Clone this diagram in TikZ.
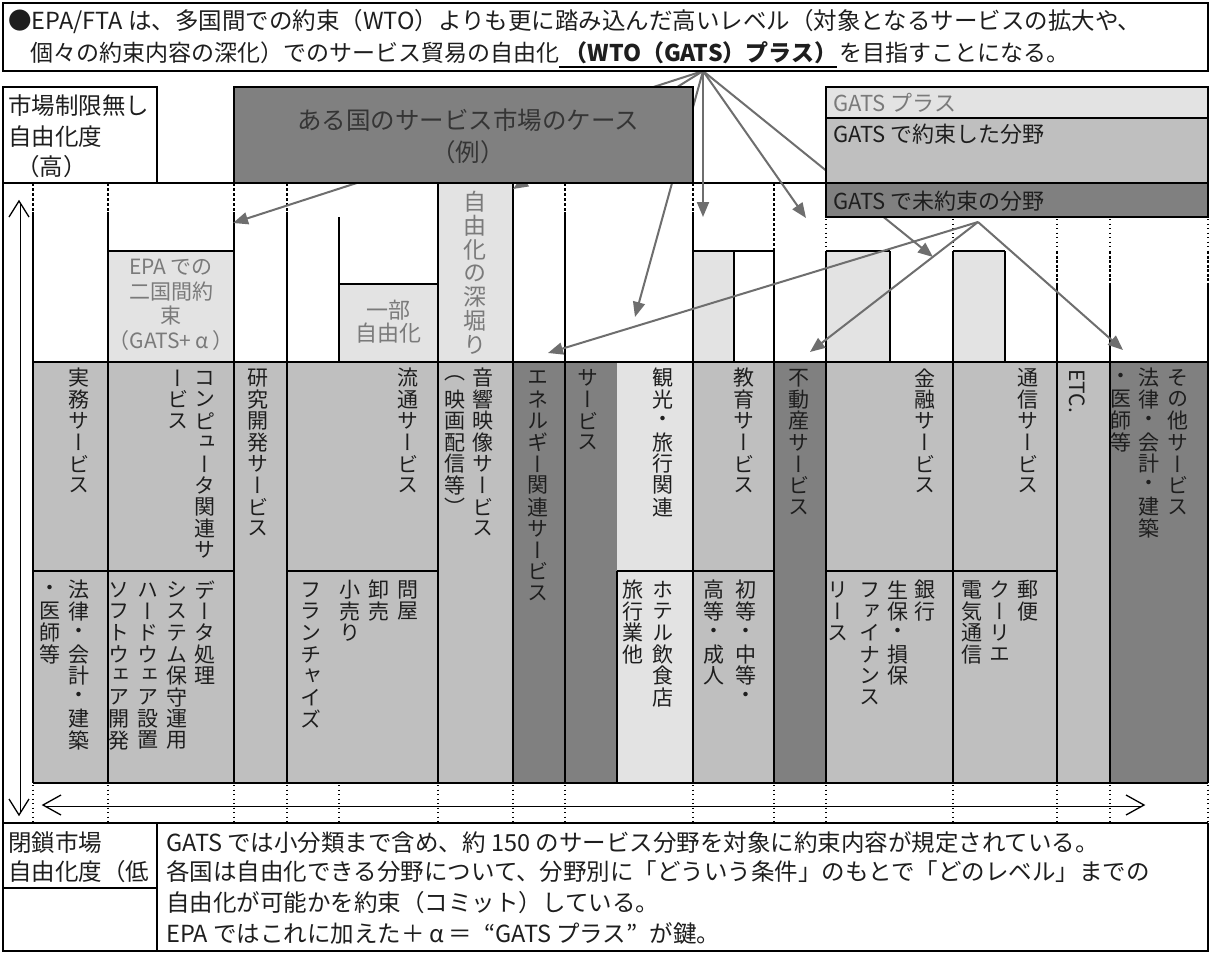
\documentclass[tikz,border=0pt]{standalone}
\usepackage{fontspec}
\setmainfont{Noto Sans CJK JP}
\newfontfamily\vfont{Noto Sans CJK JP}[RawFeature=+vert]
\usetikzlibrary{arrows.meta}
\definecolor{lt}{HTML}{E3E3E3}
\definecolor{md}{HTML}{BFBFBF}
\definecolor{dk}{HTML}{808080}
\definecolor{arr}{HTML}{6E6E6E}
\definecolor{txg}{HTML}{7A7A7A}
\definecolor{txd}{HTML}{1E1E1E}
\makeatletter
\newdimen\vtp \vtp=21.5pt
\def\vt@loop#1{\ifx\@nil#1\else\vbox to\vtp{\vss\hbox to\vtp{\hss#1\hss}\vss}\expandafter\vt@loop\fi}
\newcommand\vt[1]{\vbox{\offinterlineskip\vt@loop#1\@nil}}
\makeatother
\tikzset{
  frame/.style={draw=black, line width=2pt},
  ln/.style={draw=black, line width=1.8pt},
  dsh/.style={draw=black, line width=1.4pt, dash pattern=on 3pt off 2pt},
  dsht/.style={draw=black, line width=2pt, dash pattern=on 3pt off 1.5pt},
  dot/.style={draw=black, line width=1.3pt, dash pattern=on 1.3pt off 3.2pt},
  garrow/.style={draw=arr, line width=2pt, -{Triangle[length=15pt,width=12pt]}},
  dbl/.style={draw=black, double=white, double distance=1.2pt, line width=0.9pt},
  head/.style={draw=black, line width=1.3pt},
  vtxt/.style={inner sep=0pt, anchor=north, text=txd, font=\vfont\fontsize{21pt}{21pt}\selectfont},
  htxt/.style={inner sep=0pt, anchor=west, text=txd, font=\fontsize{23pt}{23pt}\selectfont},
  btxt/.style={inner sep=0pt, anchor=west, text=txd, font=\fontsize{23.5pt}{23.5pt}\selectfont},
  ltxt/.style={inner sep=0pt, anchor=west, font=\fontsize{22pt}{22pt}\selectfont},
}
\begin{document}
\begin{tikzpicture}[x=1pt,y=-1pt]
\useasboundingbox (0,0) rectangle (1211,953);
\fill[white] (0,0) rectangle (1211,953);

% ---- lower band fills
\fill[md] (33,362) rectangle (513,783);
\fill[dk] (513,362) rectangle (617,783);
\fill[lt] (617,362) rectangle (693,783);
\fill[md] (693,362) rectangle (774,783);
\fill[dk] (774,362) rectangle (826,783);
\fill[md] (826,362) rectangle (1110,783);
\fill[dk] (1110,362) rectangle (1208,783);
% ---- upper light boxes
\fill[lt] (108,251) rectangle (234,362);
\fill[lt] (339,284) rectangle (438,362);
\fill[lt] (438,183) rectangle (513,362);
\fill[lt] (693,251) rectangle (734,362);
\fill[lt] (826,251) rectangle (890,362);
\fill[lt] (953,251) rectangle (1005,362);

% ---- solid verticals
\foreach \x in {33,108,234,287,565,693}{\draw[ln] (\x,212) -- (\x,783);}
\draw[ln] (339,217) -- (339,362);
\draw[ln] (438,183) -- (438,783);
\draw[ln] (513,183) -- (513,783);
\draw[ln] (617,571) -- (617,783);
\draw[ln] (734,251) -- (734,362);
\draw[ln] (774,251) -- (774,783);
\draw[ln] (826,251) -- (826,783);
\draw[ln] (890,251) -- (890,362);
\draw[ln] (953,251) -- (953,783);
\draw[ln] (1005,251) -- (1005,362);
\foreach \x in {1057,1110,1208}{\draw[ln] (\x,283) -- (\x,783);}
% ---- solid horizontals
\draw[ln] (108,251) -- (234,251);
\draw[ln] (339,284) -- (438,284);
\draw[ln] (693,251) -- (774,251);
\draw[ln] (826,251) -- (890,251);
\draw[ln] (953,251) -- (1005,251);
\draw[ln] (33,362) -- (1208,362);
\draw[ln] (33,571) -- (234,571);
\draw[ln] (287,571) -- (438,571);
\draw[ln] (617,571) -- (774,571);
\draw[ln] (826,571) -- (1057,571);
\draw[ln] (33,783) -- (1208,783);
% ---- dashed / dotted column continuations
\foreach \x in {33,108,234,287,565,693}{\draw[dsh] (\x,183) -- (\x,212);}
\draw[dsh] (774,183) -- (774,251);
\foreach \x in {826,953,1057,1110,1208}{\draw[dot] (\x,219) -- (\x,251);}
\foreach \x in {1057,1110,1208}{\draw[dsht] (\x,251) -- (\x,283);}
\foreach \x in {33,108,234,287,339,438,513,565,693,774,826,953,1057,1110,1208}{\draw[dot] (\x,785) -- (\x,823);}

% ---- frame
\draw[frame] (3,183) -- (1208,183);
\draw[frame] (3,183) -- (3,951) -- (1208,951) -- (1208,823);
\draw[frame] (3,823) -- (1208,823);
\draw[frame] (157,823) -- (157,951);
\draw[frame] (3,888) -- (157,888);

% ---- double arrows
\coordinate (vtop) at (19,201);
\coordinate (vbot) at (19,815);
\draw[dbl, shorten <=2pt, shorten >=2pt] (vtop) -- (vbot);
\draw[head] (9,217) -- (vtop) -- (29,217);
\draw[head] (9,799) -- (vbot) -- (29,799);
\coordinate (hl) at (43,805);
\coordinate (hr) at (1144,805);
\draw[dbl, shorten <=2pt, shorten >=2pt] (hl) -- (hr);
\draw[head] (61,795) -- (hl) -- (61,815);
\draw[head] (1126,795) -- (hr) -- (1126,815);

% ---- upper labels
\node[inner sep=0pt, align=center, text=txg, font=\fontsize{21pt}{24.5pt}\selectfont] (epa) at (171,305) {EPA での\\二国間約\\束\\（GATS+\makebox[1em]{α}）};
\node[inner sep=0pt, align=center, text=txg, font=\fontsize{22pt}{23pt}\selectfont] (ichibu) at (388,322) {一部\\自由化};
\node[vtxt, text=txg, font=\vfont\fontsize{23pt}{23pt}\selectfont] (fukabori) at (475,190) {\vtp=23.8pt\vt{自由化の深堀り}};

% ---- lower band labels
\node[vtxt] (t1) at (79,367) {\vt{実務サービス}};
\node[vtxt] (t2) at (205,367) {\vt{コンピュータ関連サ}};
\node[vtxt] (t2b) at (178,367) {\vt{ービス}};
\node[vtxt] (t3) at (258,367) {\vt{研究開発サービス}};
\node[vtxt] (t4) at (408,367) {\vt{流通サービス}};
\node[vtxt] (t5) at (483,367) {\vt{音響映像サービス}};
\node[vtxt] (t5b) at (455,367) {\vt{（映画配信等）}};
\node[vtxt] (t6) at (538,367) {\vt{エネルギー関連サービス}};
\node[vtxt] (t7) at (588,367) {\vt{サービス}};
\node[vtxt] (t8) at (663,367) {\vt{観光・旅行関連}};
\node[vtxt] (t9) at (744,367) {\vt{教育サービス}};
\node[vtxt] (t10) at (799,367) {\vt{不動産サービス}};
\node[vtxt] (t11) at (925,367) {\vt{金融サービス}};
\node[vtxt] (t12) at (1028,367) {\vt{通信サービス}};
\node[inner sep=0pt, rotate=-90, anchor=west, text=txd, font=\fontsize{21pt}{21pt}\selectfont] (t13) at (1077,369) {ETC.};
\node[vtxt] (t14) at (1178,367) {\vt{その他サービス}};
\node[vtxt] (t14b) at (1149,367) {\vt{法律・会計・建築}};
\node[vtxt] (t14c) at (1121,367) {\vt{・医師等}};

% ---- sub band labels
\node[vtxt] (s1) at (79,579) {\vt{法律・会計・建築}};
\node[vtxt] (s1b) at (50,579) {\vt{・医師等}};
\node[vtxt] (s2) at (205,579) {\vt{データ処理}};
\node[vtxt] (s2b) at (177,579) {\vt{システム保守運用}};
\node[vtxt] (s2c) at (148,579) {\vt{ハードウェア設置}};
\node[vtxt] (s2d) at (119,579) {\vt{ソフトウェア開発}};
\node[vtxt] (s4) at (408,579) {\vt{問屋}};
\node[vtxt] (s4b) at (379,579) {\vt{卸売}};
\node[vtxt] (s4c) at (350,579) {\vt{小売り}};
\node[vtxt] (s4d) at (311,579) {\vt{フランチャイズ}};
\node[vtxt] (s8) at (663,579) {\vt{ホテル飲食店}};
\node[vtxt] (s8b) at (633,579) {\vt{旅行業他}};
\node[vtxt] (s9) at (746,579) {\vt{初等・中等・}};
\node[vtxt] (s9b) at (714,579) {\vt{高等・成人}};
\node[vtxt] (s11) at (925,579) {\vt{銀行}};
\node[vtxt] (s11b) at (898,579) {\vt{生保・損保}};
\node[vtxt] (s11c) at (870,579) {\vt{ファイナンス}};
\node[vtxt] (s11d) at (838,579) {\vt{リース}};
\node[vtxt] (s12) at (1028,579) {\vt{郵便}};
\node[vtxt] (s12b) at (1000,579) {\vt{クーリエ}};
\node[vtxt] (s12c) at (972,579) {\vt{電気通信}};

% ---- bottom texts
\node[btxt] (c1) at (8,843) {閉鎖市場};
\node[btxt] (c2) at (8,872) {自由化度（低};
\node[btxt] (b1) at (166,843) {GATS では小分類まで含め、約 150 のサービス分野を対象に約束内容が規定されている。};
\node[btxt] (b2) at (166,872) {各国は自由化できる分野について、分野別に「どういう条件」のもとで「どのレベル」までの};
\node[btxt] (b3) at (166,903) {自由化が可能かを約束（コミット）している。};
\node[btxt] (b4) at (166,934) {EPA ではこれに加えた＋\makebox[1em]{α}＝\makebox[1em][r]{“}GATS プラス\makebox[1em][l]{”}が鍵。};

% ---- gray arrows
\coordinate (O) at (703,71);
\coordinate (a1) at (233,223);
\coordinate (a2) at (513,189);
\coordinate (a3) at (635,317);
\coordinate (a4) at (703,217);
\coordinate (a5) at (806,218);
\coordinate (a6) at (933,257);
\coordinate (P) at (978,222);
\coordinate (b1t) at (548,353);
\coordinate (b2t) at (810,352);
\coordinate (b3t) at (1123,350);
\foreach \t in {a1,a2,a3,a4,a5,a6}{\draw[garrow] (O) -- (\t);}
\foreach \t in {b1t,b2t,b3t}{\draw[garrow] (P) -- (\t);}

% ---- top boxes
\filldraw[fill=white, frame] (3,87) rectangle (157,183);
\node[htxt, font=\fontsize{23.5pt}{23.5pt}\selectfont] (k1) at (8,106) {市場制限無し};
\node[htxt, font=\fontsize{23.5pt}{23.5pt}\selectfont] (k2) at (8,137) {自由化度};
\node[htxt, font=\fontsize{23.5pt}{23.5pt}\selectfont] (k3) at (16,167) {（高）};

\filldraw[fill=dk, frame] (234,87) rectangle (693,183);
\node[inner sep=0pt, align=center, text=txd!90, font=\fontsize{24.5pt}{32pt}\selectfont] (case) at (468,136) {ある国のサービス市場のケース\\（例）};

\filldraw[fill=lt, frame] (826,87) rectangle (1208,118);
\filldraw[fill=md, frame] (826,118) rectangle (1208,183);
\filldraw[fill=dk, frame] (826,183) rectangle (1208,217);
\node[ltxt, text=txg] (g1) at (833,103) {GATS プラス};
\node[ltxt, text=txd] (g2) at (833,134) {GATS で約束した分野};
\node[ltxt, text=txd] (g3) at (833,201) {GATS で未約束の分野};

% ---- header
\filldraw[fill=white, frame] (3,3) rectangle (1208,71);
\node[htxt, font=\fontsize{23.5pt}{23.5pt}\selectfont] (h1) at (8,22) {●EPA/FTA は、多国間での約束（WTO）よりも更に踏み込んだ高いレベル（対象となるサービスの拡大や、};
\node[htxt] (h2a) at (30,53) {個々の約束内容の深化）でのサービス貿易の自由化};
\node[htxt, font=\bfseries\fontsize{23pt}{23pt}\selectfont, anchor=west] (h2b) at ([xshift=5pt]h2a.east) {（WTO（GATS）プラス）};
\node[htxt, anchor=west] (h2c) at ([xshift=2pt]h2b.east) {を目指すことになる。};
\draw[line width=1.6pt] (h2a.east |- 0,67) -- (h2b.east |- 0,67);
\end{tikzpicture}
\end{document}
